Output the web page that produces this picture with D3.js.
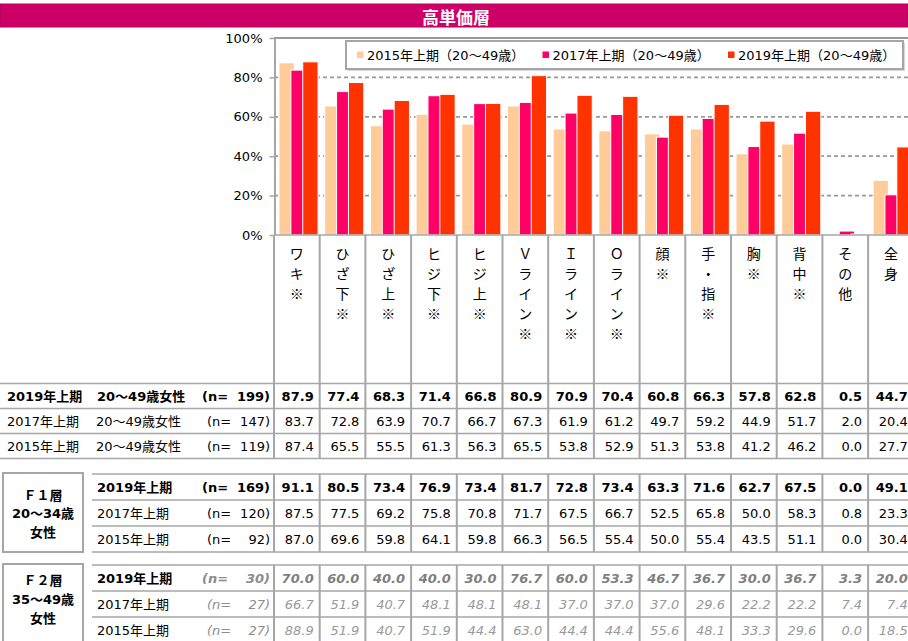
<!DOCTYPE html>
<html><head><meta charset="utf-8">
<script src="https://cdn.jsdelivr.net/npm/d3@7"></script>
<style>body{margin:0;background:#fff}svg{display:block}</style>
</head><body><svg id="c" width="908" height="641"></svg>
<script>
const title = "高単価層";
const categories = ["ワキ※","ひざ下※","ひざ上※","ヒジ下※","ヒジ上※","Ｖライン※","Ｉライン※","Ｏライン※","顔※","手・指※","胸※","背中※","その他","全身"];
const seriesNames = ["2015年上期（20～49歳）","2017年上期（20～49歳）","2019年上期（20～49歳）"];
const all2015 = [87.4,65.5,55.5,61.3,56.3,65.5,53.8,52.9,51.3,53.8,41.2,46.2,0.0,27.7];
const all2017 = [83.7,72.8,63.9,70.7,66.7,67.3,61.9,61.2,49.7,59.2,44.9,51.7,2.0,20.4];
const all2019 = [87.9,77.4,68.3,71.4,66.8,80.9,70.9,70.4,60.8,66.3,57.8,62.8,0.5,44.7];
const f1_2019 = [91.1,80.5,73.4,76.9,73.4,81.7,72.8,73.4,63.3,71.6,62.7,67.5,0.0,49.1];
const f1_2017 = [87.5,77.5,69.2,75.8,70.8,71.7,67.5,66.7,52.5,65.8,50.0,58.3,0.8,23.3];
const f1_2015 = [87.0,69.6,59.8,64.1,59.8,66.3,56.5,55.4,50.0,55.4,43.5,51.1,0.0,30.4];
const f2_2019 = [70.0,60.0,40.0,40.0,30.0,76.7,60.0,53.3,46.7,36.7,30.0,36.7,3.3,20.0];
const f2_2017 = [66.7,51.9,40.7,48.1,48.1,48.1,37.0,37.0,37.0,29.6,22.2,22.2,7.4,7.4];
const f2_2015 = [88.9,51.9,40.7,51.9,44.4,63.0,44.4,44.4,55.6,48.1,33.3,29.6,0.0,18.5];
const yTicks = [0,20,40,60,80,100];
const colors = ["#FFCC99","#FF0066","#FF3300"];

const svg = d3.select("#c");
const mixed = "'DejaVu Sans','Noto Sans CJK JP',sans-serif";
const jp = "'Noto Sans CJK JP',sans-serif";
const lineCol = "#a6a6a6";

// title bar
svg.append("rect").attr("x",0.5).attr("y",4).attr("width",907).attr("height",23)
  .attr("fill","#cc0066").attr("stroke","#b8005a").attr("stroke-width",1);
svg.append("text").attr("x",456).attr("y",16).attr("text-anchor","middle")
  .attr("dominant-baseline","central").attr("fill","#fff").attr("font-family",jp)
  .attr("font-weight","bold").attr("font-size",17).text(title);

const x = d3.scaleBand().domain(categories).range([274, 274 + 14*45.7]).padding(0);
const bw = x.bandwidth();
const y = d3.scaleLinear().domain([0,100]).range([235,38]);
const xR = 274 + 14*45.7;

// gridlines
svg.append("g").selectAll("line").data(yTicks.filter(d=>d>0)).join("line")
  .attr("x1",274).attr("x2",xR).attr("y1",d=>y(d)).attr("y2",d=>y(d))
  .attr("stroke","#999999").attr("stroke-width",d=>d===100?2:1.8)
  .attr("stroke-dasharray",d=>d===100?null:"4,3");

// bars
const series = [all2015, all2017, all2019];
series.forEach((vals,i)=>{
  svg.append("g").selectAll("rect").data(vals).join("rect")
    .attr("x",(d,j)=>x(categories[j]) + bw*0.109 + i*bw*0.26)
    .attr("width",bw*0.335)
    .attr("y",d=>y(d)).attr("height",d=>y(0)-y(d))
    .attr("fill",colors[i]).attr("stroke",d=>d>0?"#fff":"none").attr("stroke-width",1);
});

// y axis
const ya = svg.append("g").attr("transform","translate(274.5,0)")
  .call(d3.axisLeft(y).tickValues(yTicks).tickSize(5).tickSizeOuter(0).tickPadding(7).tickFormat(d=>d+"%"));
ya.select(".domain").attr("stroke",lineCol).attr("stroke-width",2);
ya.selectAll(".tick line").attr("stroke",lineCol).attr("stroke-width",1.5);
ya.selectAll(".tick text").attr("font-family",mixed).attr("font-size",13).attr("fill","#000");

// x axis baseline
svg.append("line").attr("x1",274).attr("x2",xR).attr("y1",235).attr("y2",235)
  .attr("stroke",lineCol).attr("stroke-width",1.5);

// legend
const lg = svg.append("g");
lg.append("rect").attr("x",348).attr("y",43).attr("width",557).attr("height",28).attr("fill","#d9d9d9");
lg.append("rect").attr("x",346).attr("y",41).attr("width",557).attr("height",28)
  .attr("fill","#fff").attr("stroke",lineCol).attr("stroke-width",2);
seriesNames.forEach((n,i)=>{
  const lx = 357 + i*185.5;
  lg.append("rect").attr("x",lx).attr("y",51.5).attr("width",6.5).attr("height",6.5).attr("fill",colors[i]);
  lg.append("text").attr("x",lx+10).attr("y",55.5).attr("dominant-baseline","central")
    .attr("font-family",mixed).attr("font-size",13).attr("fill","#000").text(n);
});

// column separators (label area + block 1)
const seps = categories.map(c=>x(c)).concat([xR]);
svg.append("g").selectAll("line").data(seps).join("line")
  .attr("x1",d=>d).attr("x2",d=>d).attr("y1",235).attr("y2",459)
  .attr("stroke",lineCol).attr("stroke-width",2);

// category labels (vertical)
categories.forEach(c=>{
  Array.from(c).forEach((ch,k)=>{
    svg.append("text").attr("x",x(c)+bw/2).attr("y",253+k*20)
      .attr("text-anchor","middle").attr("dominant-baseline","central")
      .attr("font-family",jp).attr("font-size",14).attr("fill","#000").text(ch);
  });
});

// tables
function drawBlock(rows, yTop, rowH, left, seg, box) {
  const g = svg.append("g");
  for (let r=0;r<=rows.length;r++){
    g.append("line").attr("x1",left).attr("x2",xR).attr("y1",yTop+r*rowH).attr("y2",yTop+r*rowH)
      .attr("stroke",lineCol).attr("stroke-width",1.5);
  }
  if (box) {
    g.selectAll("line.sep").data(seps).join("line").attr("class","sep")
      .attr("x1",d=>d).attr("x2",d=>d).attr("y1",yTop).attr("y2",yTop+rows.length*rowH)
      .attr("stroke",lineCol).attr("stroke-width",2);
    g.append("rect").attr("x",3).attr("y",yTop-1).attr("width",80).attr("height",79)
      .attr("fill","none").attr("stroke",lineCol).attr("stroke-width",2);
    box.lines.forEach((t,k)=>{
      g.append("text").attr("x",43).attr("y",box.ys[k]).attr("text-anchor","middle")
        .attr("dominant-baseline","central").attr("font-family",mixed).attr("font-weight","bold")
        .attr("font-size",13).attr("fill","#000").text(t);
    });
  }
  rows.forEach((r,i)=>{
    const cy = yTop + i*rowH + rowH/2;
    const fw = r.bold ? "bold" : "normal";
    const t = (xx, s, anchor, style) => g.append("text").attr("x",xx).attr("y",cy)
      .attr("text-anchor",anchor).attr("dominant-baseline","central")
      .attr("font-family",mixed).attr("font-size",13).attr("font-weight",fw)
      .attr("font-style",style.italic?"italic":"normal").attr("fill",style.fill||"#000").text(s);
    t(seg ? 7 : 97, r.period, "start", {});
    if (seg) t(r.bold?97:96, seg, "start", {});
    const nStyle = r.small ? {italic:true, fill:"#8c8c8c"} : {};
    t(r.bold?202:207, "(n=", "start", nStyle);
    t(270, r.n + ")", "end", nStyle);
    r.vals.forEach((v,j)=>{
      t(x(categories[j])+bw-6, v.toFixed(1), "end",
        r.small ? {italic:true, fill: r.bold ? "#7f7f7f" : "#999999"} : {});
    });
  });
}

drawBlock([
  {period:"2019年上期", n:199, vals:all2019, bold:true},
  {period:"2017年上期", n:147, vals:all2017},
  {period:"2015年上期", n:119, vals:all2015}
], 383.5, 25, 0, "20～49歳女性", null);

drawBlock([
  {period:"2019年上期", n:169, vals:f1_2019, bold:true},
  {period:"2017年上期", n:120, vals:f1_2017},
  {period:"2015年上期", n:92, vals:f1_2015}
], 474, 26, 92, null, {lines:["Ｆ１層","20～34歳","女性"], ys:[495,513,532]});

drawBlock([
  {period:"2019年上期", n:30, vals:f2_2019, bold:true, small:true},
  {period:"2017年上期", n:27, vals:f2_2017, small:true},
  {period:"2015年上期", n:27, vals:f2_2015, small:true}
], 565, 26, 92, null, {lines:["Ｆ２層","35～49歳","女性"], ys:[580,599,618]});
</script></body></html>
